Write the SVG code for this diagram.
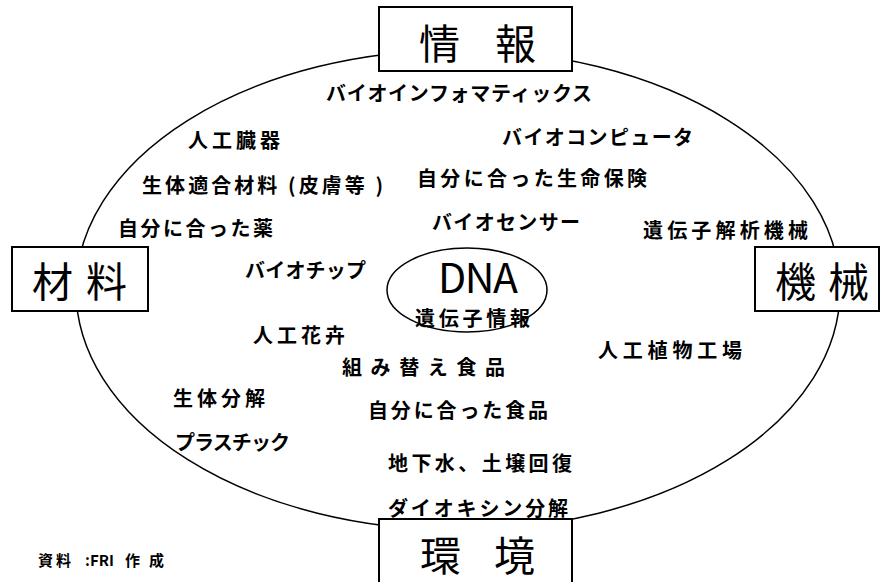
<svg xmlns="http://www.w3.org/2000/svg" width="880" height="582" viewBox="0 0 880 582">
<style>
.ln{fill:none;stroke:#000;stroke-width:1.5}
.box{fill:#fff;stroke:#000;stroke-width:2}
.ttl{font-family:"Noto Sans CJK JP","Noto Sans",sans-serif;font-size:41px;fill:#000}
.t{font-family:"Noto Sans CJK JP","Noto Sans",sans-serif;font-size:20px;font-weight:bold;fill:#000}
.s{font-family:"Noto Sans CJK JP","Noto Sans",sans-serif;font-size:15px;font-weight:bold;fill:#000}
</style>
<rect width="880" height="582" fill="#fff"/>
<g id="connectors">
<ellipse class="ln" cx="458" cy="290" rx="382" ry="240"/>
</g>
<g id="info">
<rect class="box" x="379" y="7" width="193" height="64"/>
<text class="ttl" x="419" y="59" textLength="117" lengthAdjust="spacing">情報</text>
</g>
<g id="material">
<rect class="box" x="12" y="247" width="136" height="64"/>
<text class="ttl" x="32" y="297" textLength="95" lengthAdjust="spacing">材料</text>
</g>
<g id="machine">
<rect class="box" x="755" y="247" width="124" height="64"/>
<text class="ttl" x="775" y="297" textLength="94" lengthAdjust="spacing">機械</text>
</g>
<g id="environment">
<rect class="box" x="379" y="519" width="193" height="70"/>
<text class="ttl" x="420" y="571" font-size="39" textLength="115" lengthAdjust="spacing">環境</text>
</g>
<g id="dna">
<ellipse class="ln" cx="467" cy="290" rx="80" ry="42" fill="#fff"/>
<text class="ttl" x="438" y="293" font-size="36" textLength="80" lengthAdjust="spacing">DNA</text>
<text class="t" x="415" y="326" textLength="115" lengthAdjust="spacing">遺伝子情報</text>
</g>
<g id="labels">
<text class="t" x="326" y="101" textLength="266" lengthAdjust="spacing">バイオインフォマティックス</text>
<text class="t" x="188" y="148" textLength="92" lengthAdjust="spacing">人工臓器</text>
<text class="t" x="142" y="193" textLength="241" lengthAdjust="spacing">生体適合材料 (皮膚等 )</text>
<text class="t" x="118" y="236" textLength="155" lengthAdjust="spacing">自分に合った薬</text>
<text class="t" x="502" y="145" textLength="191" lengthAdjust="spacing">バイオコンピュータ</text>
<text class="t" x="417" y="186" textLength="230" lengthAdjust="spacing">自分に合った生命保険</text>
<text class="t" x="432" y="230" textLength="148" lengthAdjust="spacing">バイオセンサー</text>
<text class="t" x="643" y="238" textLength="165" lengthAdjust="spacing">遺伝子解析機械</text>
<text class="t" x="245" y="278" textLength="121" lengthAdjust="spacing">バイオチップ</text>
<text class="t" x="253" y="343" textLength="92" lengthAdjust="spacing">人工花卉</text>
<text class="t" x="342" y="375" textLength="163" lengthAdjust="spacing">組み替え食品</text>
<text class="t" x="173" y="406" textLength="92" lengthAdjust="spacing">生体分解</text>
<text class="t" x="175" y="450" textLength="115" lengthAdjust="spacing">プラスチック</text>
<text class="t" x="368" y="418" textLength="180" lengthAdjust="spacing">自分に合った食品</text>
<text class="t" x="388" y="471" textLength="184" lengthAdjust="spacing">地下水、土壌回復</text>
<text class="t" x="388" y="516" textLength="180" lengthAdjust="spacing">ダイオキシン分解</text>
<text class="t" x="598" y="358" textLength="144" lengthAdjust="spacing">人工植物工場</text>
<text class="s" y="566"><tspan x="38">資</tspan><tspan x="56">料</tspan><tspan x="85">:FRI</tspan><tspan x="125">作</tspan><tspan x="149">成</tspan></text>
</g>
</svg>
